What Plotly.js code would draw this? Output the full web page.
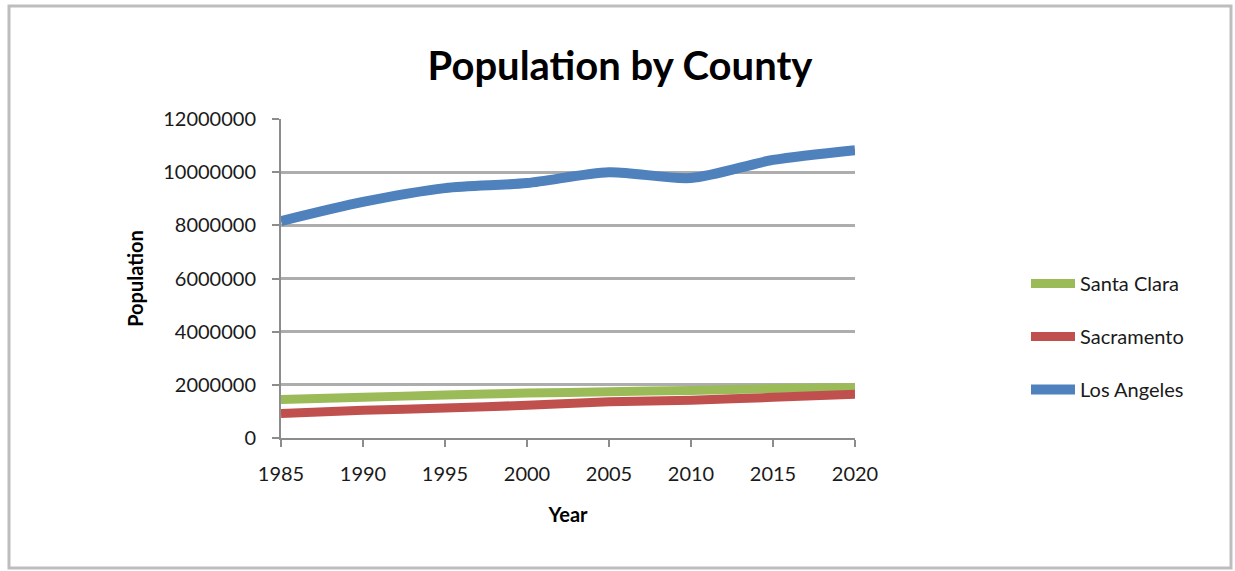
<!DOCTYPE html>
<html>
<head>
<meta charset="utf-8">
<script src="https://cdn.plot.ly/plotly-3.0.1.min.js"></script>
<style>html,body{margin:0;padding:0;background:#fff;}#chart{width:1235px;height:571px;}</style>
</head>
<body>
<div id="chart"></div>
<script>
const years = [1985, 1990, 1995, 2000, 2005, 2010, 2015, 2020];
const seriesNames = ["Santa Clara", "Sacramento", "Los Angeles"];
const santaClara = [1450000, 1530000, 1620000, 1690000, 1740000, 1790000, 1860000, 1900000];
const sacramento = [920000, 1040000, 1130000, 1230000, 1360000, 1420000, 1530000, 1650000];
const losAngeles = [8160000, 8880000, 9400000, 9590000, 10000000, 9780000, 10460000, 10830000];
const yTicks = [0, 2000000, 4000000, 6000000, 8000000, 10000000, 12000000];
const xTicks = [1985, 1990, 1995, 2000, 2005, 2010, 2015, 2020];
const colors = ["#9BBB59", "#C0504D", "#4F81BD"];

const FONT = "Lato, 'Open Sans', sans-serif";
const W = 1235, H = 571;
const L = 281, R = 855, T = 119, B = 438;
const px2x = p => (p - L) / (R - L);
const px2y = p => (B - p) / (B - T);

const data = [santaClara, sacramento, losAngeles].map((vals, i) => ({
  x: years, y: vals, name: seriesNames[i], type: "scatter", mode: "lines",
  line: {color: colors[i], width: i === 2 ? 10 : 9, shape: "spline", smoothing: 0.8},
  legendgroup: "g" + i, hoverinfo: "x+y"
}));

const layout = {
  width: W, height: H,
  margin: {l: L, r: W - R, t: T, b: H - B, pad: 0},
  paper_bgcolor: "#fff", plot_bgcolor: "#fff",
  font: {family: FONT, color: "#1a1a1a", size: 20},
  title: {text: "<b>Population by County</b>", font: {family: FONT, size: 40, color: "#000"},
          x: 620 / W, xref: "container", y: 1 - 66 / H, yref: "container", xanchor: "center", yanchor: "middle"},
  xaxis: {range: [1985, 2020], tickvals: xTicks, ticktext: xTicks.map(String),
          showgrid: false, zeroline: false, showline: true, linecolor: "#8c8c8c", linewidth: 2,
          ticks: "outside", ticklen: 7, tickcolor: "#8c8c8c", tickwidth: 2,
          ticklabelstandoff: 10,
          tickfont: {size: 20}, fixedrange: true,
          title: {text: "<b>Year</b>", font: {size: 20, color: "#000"}, standoff: 24}},
  yaxis: {range: [0, 12000000], tickvals: yTicks, ticktext: yTicks.map(String),
          showgrid: true, gridcolor: "#ADADAD", gridwidth: 3, zeroline: false,
          showline: true, linecolor: "#8c8c8c", linewidth: 2,
          ticks: "outside", ticklen: 7, tickcolor: "#8c8c8c", tickwidth: 2,
          ticklabelstandoff: 12,
          tickfont: {size: 20}, fixedrange: true,
          title: {text: "<b>Population</b>", font: {size: 20, color: "#000"}, standoff: 14}},
  legend: {x: px2x(1026), y: px2y(264), xanchor: "left", yanchor: "top",
           font: {size: 20, color: "#1a1a1a"}, tracegroupgap: 24, traceorder: "grouped",
           bgcolor: "rgba(0,0,0,0)", itemwidth: 44},
  showlegend: true,
  shapes: [{type: "rect", xref: "paper", yref: "paper",
            x0: px2x(9), x1: px2x(1231), y0: px2y(6), y1: px2y(568),
            line: {color: "#BDBDBD", width: 3}, layer: "below"}]
};

Plotly.newPlot("chart", data, layout, {displayModeBar: false, staticPlot: true});
</script>
</body>
</html>
